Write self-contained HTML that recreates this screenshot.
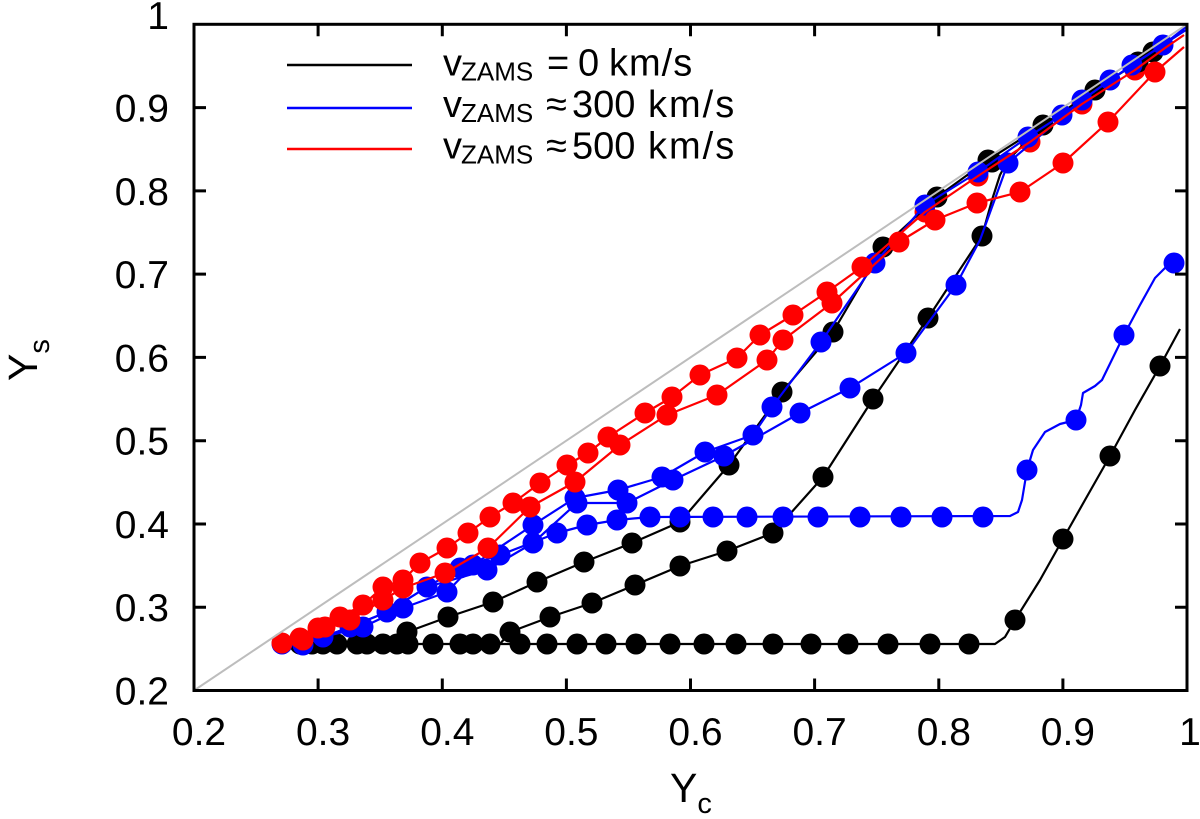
<!DOCTYPE html>
<html><head><meta charset="utf-8"><style>
html,body{margin:0;padding:0;background:#fff;}
svg{display:block;}
text{font-family:"Liberation Sans",Arial,Helvetica,sans-serif;fill:#000;}
</style></head><body>
<svg width="1200" height="819" viewBox="0 0 1200 819" xmlns="http://www.w3.org/2000/svg">
<rect x="0" y="0" width="1200" height="819" fill="#fff"/>

<g fill="#ff0000">
<circle cx="925" cy="212" r="10.5"/><circle cx="978" cy="176" r="10.5"/><circle cx="1030" cy="142" r="10.5"/><circle cx="1082" cy="104" r="10.5"/><circle cx="1135" cy="70" r="10.5"/>
</g>

<g fill="none" stroke="#000" stroke-width="2.2" stroke-linejoin="round">
<polyline points="282,644 995,644 1005,637 1015,620 1040,580 1063,539 1085,500 1110,456 1135,410 1160,366 1180,329"/>
<polyline points="282,644 395,644 407,632 448,617 493,602 537,582 584,562 632,543 680,522 729,465 782,392 833,332 883,247 937,197 988,160 1043,125 1095,90 1138,62 1153,52 1184,30"/>
<polyline points="500,644 510,632 550,617 592,603 635,585 680,566 727,551 773,533 823,477 873,399 928,318 982,236 992,200 1000,175 1008,160 1043,125"/>
</g>
<g fill="#000">
<circle cx="300" cy="644" r="10.5"/><circle cx="312" cy="644" r="10.5"/><circle cx="323" cy="644" r="10.5"/><circle cx="337" cy="644" r="10.5"/><circle cx="357" cy="644" r="10.5"/><circle cx="367" cy="644" r="10.5"/><circle cx="383" cy="644" r="10.5"/><circle cx="397" cy="644" r="10.5"/><circle cx="408" cy="644" r="10.5"/><circle cx="433" cy="644" r="10.5"/><circle cx="460" cy="644" r="10.5"/><circle cx="473" cy="644" r="10.5"/><circle cx="490" cy="644" r="10.5"/><circle cx="520" cy="644" r="10.5"/><circle cx="547" cy="644" r="10.5"/><circle cx="577" cy="644" r="10.5"/><circle cx="606" cy="644" r="10.5"/><circle cx="636" cy="644" r="10.5"/><circle cx="670" cy="644" r="10.5"/><circle cx="704" cy="644" r="10.5"/><circle cx="736" cy="644" r="10.5"/><circle cx="773" cy="644" r="10.5"/><circle cx="811" cy="644" r="10.5"/><circle cx="848" cy="644" r="10.5"/><circle cx="888" cy="644" r="10.5"/><circle cx="930" cy="644" r="10.5"/><circle cx="969" cy="644" r="10.5"/>
<circle cx="1015" cy="620" r="10.5"/><circle cx="1063" cy="539" r="10.5"/><circle cx="1110" cy="456" r="10.5"/><circle cx="1160" cy="366" r="10.5"/>
<circle cx="407" cy="632" r="10.5"/><circle cx="448" cy="617" r="10.5"/><circle cx="493" cy="602" r="10.5"/><circle cx="537" cy="582" r="10.5"/><circle cx="584" cy="562" r="10.5"/><circle cx="632" cy="543" r="10.5"/><circle cx="680" cy="522" r="10.5"/><circle cx="729" cy="465" r="10.5"/><circle cx="782" cy="392" r="10.5"/><circle cx="833" cy="332" r="10.5"/><circle cx="883" cy="247" r="10.5"/><circle cx="937" cy="197" r="10.5"/><circle cx="988" cy="160" r="10.5"/><circle cx="1043" cy="125" r="10.5"/><circle cx="1095" cy="90" r="10.5"/><circle cx="1138" cy="62" r="10.5"/><circle cx="1153" cy="52" r="10.5"/>
<circle cx="510" cy="632" r="10.5"/><circle cx="550" cy="617" r="10.5"/><circle cx="592" cy="603" r="10.5"/><circle cx="635" cy="585" r="10.5"/><circle cx="680" cy="566" r="10.5"/><circle cx="727" cy="551" r="10.5"/><circle cx="773" cy="533" r="10.5"/><circle cx="823" cy="477" r="10.5"/><circle cx="873" cy="399" r="10.5"/><circle cx="928" cy="318" r="10.5"/><circle cx="982" cy="236" r="10.5"/><circle cx="992" cy="162" r="10.5"/>
</g>

<g fill="none" stroke="#0000ff" stroke-width="2.2" stroke-linejoin="round">
<polyline points="282,644 323,637 363,627 403,608 447,592 473,565 533,525 575,498 618,490 662,477 705,452 753,435 772,407 821,342 875,263 925,205 978,172 1028,137 1062,115 1110,80 1163,45 1186,27"/>
<polyline points="282,644 303,645 350,627 387,612 427,587 487,570 533,543 577,503 627,503 673,480 724,456 800,413 850,388 906,353 956,285 980,240 1008,163 1082,100 1132,65 1186,30"/>
<polyline points="282,644 303,645 323,637 350,627 387,612 427,587 460,568 500,555 557,533 587,525 617,520 650,517 1010,516 1018,512 1022,500 1027,470 1033,450 1045,432 1060,424 1076,420 1081,405 1083,393 1095,386 1102,380 1124,335 1140,305 1155,278 1165,268 1174,263"/>
</g>
<g fill="#0000ff">
<circle cx="282" cy="644" r="10.5"/><circle cx="303" cy="645" r="10.5"/><circle cx="323" cy="637" r="10.5"/><circle cx="350" cy="627" r="10.5"/><circle cx="363" cy="627" r="10.5"/><circle cx="387" cy="612" r="10.5"/><circle cx="403" cy="608" r="10.5"/><circle cx="427" cy="587" r="10.5"/><circle cx="447" cy="592" r="10.5"/><circle cx="460" cy="568" r="10.5"/><circle cx="473" cy="565" r="10.5"/><circle cx="487" cy="570" r="10.5"/><circle cx="500" cy="555" r="10.5"/><circle cx="533" cy="543" r="10.5"/><circle cx="533" cy="525" r="10.5"/><circle cx="557" cy="533" r="10.5"/><circle cx="577" cy="503" r="10.5"/><circle cx="575" cy="498" r="10.5"/><circle cx="587" cy="525" r="10.5"/><circle cx="617" cy="520" r="10.5"/><circle cx="618" cy="490" r="10.5"/><circle cx="627" cy="503" r="10.5"/><circle cx="662" cy="477" r="10.5"/><circle cx="673" cy="480" r="10.5"/><circle cx="705" cy="452" r="10.5"/><circle cx="724" cy="456" r="10.5"/><circle cx="753" cy="435" r="10.5"/><circle cx="772" cy="407" r="10.5"/><circle cx="800" cy="413" r="10.5"/><circle cx="850" cy="388" r="10.5"/><circle cx="906" cy="353" r="10.5"/><circle cx="956" cy="285" r="10.5"/><circle cx="1008" cy="163" r="10.5"/>
<circle cx="821" cy="342" r="10.5"/><circle cx="875" cy="263" r="10.5"/><circle cx="925" cy="205" r="10.5"/><circle cx="978" cy="172" r="10.5"/><circle cx="1028" cy="137" r="10.5"/><circle cx="1062" cy="115" r="10.5"/><circle cx="1082" cy="100" r="10.5"/><circle cx="1110" cy="80" r="10.5"/><circle cx="1132" cy="65" r="10.5"/><circle cx="1163" cy="45" r="10.5"/>
<circle cx="650" cy="517" r="10.5"/><circle cx="680" cy="517" r="10.5"/><circle cx="713" cy="517" r="10.5"/><circle cx="747" cy="517" r="10.5"/><circle cx="783" cy="517" r="10.5"/><circle cx="818" cy="517" r="10.5"/><circle cx="860" cy="517" r="10.5"/><circle cx="901" cy="517" r="10.5"/><circle cx="942" cy="517" r="10.5"/><circle cx="983" cy="517" r="10.5"/>
<circle cx="1027" cy="470" r="10.5"/><circle cx="1076" cy="420" r="10.5"/><circle cx="1124" cy="335" r="10.5"/><circle cx="1174" cy="263" r="10.5"/>
</g>

<g fill="none" stroke="#ff0000" stroke-width="2.2" stroke-linejoin="round">
<polyline points="282,643 300,638 318,628 340,617 363,605 383,587 403,580 420,563 447,548 468,533 490,517 513,503 540,483 567,465 588,453 608,437 645,413 672,397 700,375 737,358 760,335 793,315 827,292 862,267 925,212 978,176 1030,142 1082,104 1135,70 1165,48 1184,35"/>
<polyline points="282,645 303,640 325,627 350,620 383,600 403,588 445,573 488,548 530,507 575,482 620,445 667,415 717,395 767,360 783,340 832,303 899,242 935,220 977,203 1020,192 1063,163 1108,122 1155,72 1184,47"/>
</g>
<g fill="#ff0000">
<circle cx="282" cy="643" r="10.5"/><circle cx="300" cy="638" r="10.5"/><circle cx="318" cy="628" r="10.5"/><circle cx="340" cy="617" r="10.5"/><circle cx="363" cy="605" r="10.5"/><circle cx="383" cy="587" r="10.5"/><circle cx="403" cy="580" r="10.5"/><circle cx="420" cy="563" r="10.5"/><circle cx="447" cy="548" r="10.5"/><circle cx="468" cy="533" r="10.5"/><circle cx="490" cy="517" r="10.5"/><circle cx="513" cy="503" r="10.5"/><circle cx="540" cy="483" r="10.5"/><circle cx="567" cy="465" r="10.5"/><circle cx="588" cy="453" r="10.5"/><circle cx="608" cy="437" r="10.5"/><circle cx="645" cy="413" r="10.5"/><circle cx="672" cy="397" r="10.5"/><circle cx="700" cy="375" r="10.5"/><circle cx="737" cy="358" r="10.5"/><circle cx="760" cy="335" r="10.5"/><circle cx="793" cy="315" r="10.5"/><circle cx="827" cy="292" r="10.5"/><circle cx="862" cy="267" r="10.5"/>
<circle cx="303" cy="640" r="10.5"/><circle cx="325" cy="627" r="10.5"/><circle cx="350" cy="620" r="10.5"/><circle cx="383" cy="600" r="10.5"/><circle cx="403" cy="588" r="10.5"/><circle cx="445" cy="573" r="10.5"/><circle cx="488" cy="548" r="10.5"/><circle cx="530" cy="507" r="10.5"/><circle cx="575" cy="482" r="10.5"/><circle cx="620" cy="445" r="10.5"/><circle cx="667" cy="415" r="10.5"/><circle cx="717" cy="395" r="10.5"/><circle cx="767" cy="360" r="10.5"/><circle cx="783" cy="340" r="10.5"/><circle cx="832" cy="303" r="10.5"/><circle cx="899" cy="242" r="10.5"/><circle cx="935" cy="220" r="10.5"/><circle cx="977" cy="203" r="10.5"/><circle cx="1020" cy="192" r="10.5"/><circle cx="1063" cy="163" r="10.5"/><circle cx="1108" cy="122" r="10.5"/><circle cx="1155" cy="72" r="10.5"/>
</g>

<line x1="194" y1="690.5" x2="1187" y2="24.3" stroke="#bdbdbd" stroke-width="2"/>

<g stroke="#000" stroke-width="3" fill="none">
<rect x="194" y="24.3" width="993" height="666.2"/>
<path d="M194,607.2h12M194,524h12M194,440.7h12M194,357.4h12M194,274.1h12M194,190.9h12M194,107.6h12
M1187,607.2h-12M1187,524h-12M1187,440.7h-12M1187,357.4h-12M1187,274.1h-12M1187,190.9h-12M1187,107.6h-12
M318.1,690.5v-12M442.3,690.5v-12M566.4,690.5v-12M690.5,690.5v-12M814.6,690.5v-12M938.8,690.5v-12M1062.9,690.5v-12
M318.1,24.3v12M442.3,24.3v12M566.4,24.3v12M690.5,24.3v12M814.6,24.3v12M938.8,24.3v12M1062.9,24.3v12"/>
</g>

<g font-size="39" text-anchor="end">
<text x="169" y="704.5">0.2</text>
<text x="169" y="621.2">0.3</text>
<text x="169" y="538">0.4</text>
<text x="169" y="454.7">0.5</text>
<text x="169" y="371.4">0.6</text>
<text x="169" y="288.1">0.7</text>
<text x="169" y="204.9">0.8</text>
<text x="169" y="121.6">0.9</text>
<text x="169" y="29">1</text>
</g>
<g font-size="39" text-anchor="middle">
<text x="199" y="745">0.2</text>
<text x="323.1" y="745">0.3</text>
<text x="447.3" y="745">0.4</text>
<text x="571.4" y="745">0.5</text>
<text x="695.5" y="745">0.6</text>
<text x="819.6" y="745">0.7</text>
<text x="943.8" y="745">0.8</text>
<text x="1067.9" y="745">0.9</text>
<text x="1190" y="745">1</text>
</g>

<text x="670" y="802" font-size="41">Y<tspan font-size="29" dy="11">c</tspan></text>
<text transform="translate(37,381) rotate(-90)" font-size="41">Y<tspan font-size="29" dy="12">s</tspan></text>

<g stroke-width="2.6">
<line x1="287" y1="65" x2="412" y2="65" stroke="#000"/>
<line x1="287" y1="108" x2="412" y2="108" stroke="#0000ff"/>
<line x1="287" y1="149" x2="412" y2="149" stroke="#ff0000"/>
</g>
<g font-size="38">
<text x="443" y="75.5">v<tspan font-size="26" x="461" dy="5">ZAMS</tspan><tspan x="547" dy="-5">=</tspan><tspan x="578">0</tspan><tspan x="609" letter-spacing="1">km/s</tspan></text>
<text x="443" y="117">v<tspan font-size="26" x="461" dy="5">ZAMS</tspan><tspan x="546" dy="-5">≈</tspan><tspan x="572">300</tspan><tspan x="648" letter-spacing="2">km/s</tspan></text>
<text x="443" y="158.5">v<tspan font-size="26" x="461" dy="5">ZAMS</tspan><tspan x="546" dy="-5">≈</tspan><tspan x="572">500</tspan><tspan x="648" letter-spacing="2">km/s</tspan></text>
</g>
</svg>
</body></html>
